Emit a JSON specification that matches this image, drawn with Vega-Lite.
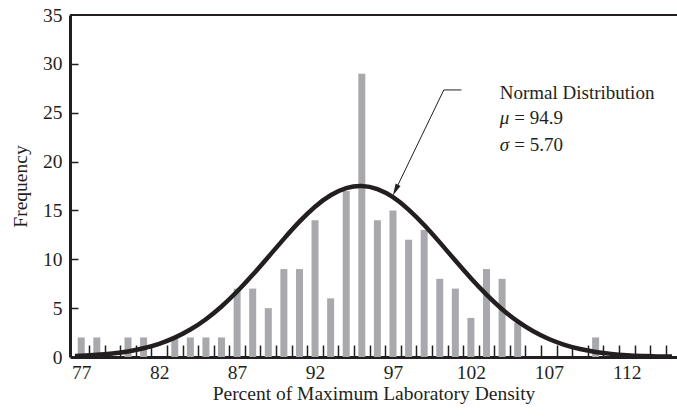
{
  "$schema": "https://vega.github.io/schema/vega-lite/v6.json",
  "width": 607,
  "height": 342,
  "autosize": {"type": "none"},
  "padding": {"left": 70, "top": 15, "right": 0, "bottom": 61},
  "background": "white",
  "config": {
    "view": {"stroke": null},
    "font": "Liberation Serif",
    "axis": {"grid": false, "domainColor": "#231f20", "tickColor": "#231f20", "labelColor": "#231f20", "titleColor": "#231f20", "labelFont": "Liberation Serif", "titleFont": "Liberation Serif", "titleFontWeight": "normal"}
  },
  "datasets": {
    "bars": [
      {"x": 77, "f": 2}, {"x": 78, "f": 2}, {"x": 80, "f": 2}, {"x": 81, "f": 2},
      {"x": 83, "f": 2}, {"x": 84, "f": 2}, {"x": 85, "f": 2}, {"x": 86, "f": 2},
      {"x": 87, "f": 7}, {"x": 88, "f": 7}, {"x": 89, "f": 5}, {"x": 90, "f": 9},
      {"x": 91, "f": 9}, {"x": 92, "f": 14}, {"x": 93, "f": 6}, {"x": 94, "f": 17},
      {"x": 95, "f": 29}, {"x": 96, "f": 14}, {"x": 97, "f": 15}, {"x": 98, "f": 12},
      {"x": 99, "f": 13}, {"x": 100, "f": 8}, {"x": 101, "f": 7}, {"x": 102, "f": 4},
      {"x": 103, "f": 9}, {"x": 104, "f": 8}, {"x": 105, "f": 3.5}, {"x": 110, "f": 2}
    ],
    "curve": [
      {"x": 76.6, "y": 0.10}, {"x": 77, "y": 0.13}, {"x": 78, "y": 0.22}, {"x": 79, "y": 0.36},
      {"x": 80, "y": 0.57}, {"x": 81, "y": 0.90}, {"x": 82, "y": 1.35}, {"x": 83, "y": 1.98},
      {"x": 84, "y": 2.81}, {"x": 85, "y": 3.87}, {"x": 86, "y": 5.17}, {"x": 87, "y": 6.70},
      {"x": 88, "y": 8.41}, {"x": 89, "y": 10.24}, {"x": 90, "y": 12.09}, {"x": 91, "y": 13.85},
      {"x": 92, "y": 15.38}, {"x": 93, "y": 16.55}, {"x": 94, "y": 17.28}, {"x": 95, "y": 17.50},
      {"x": 96, "y": 17.18}, {"x": 97, "y": 16.35}, {"x": 98, "y": 15.09}, {"x": 99, "y": 13.51},
      {"x": 100, "y": 11.73}, {"x": 101, "y": 9.87}, {"x": 102, "y": 8.06}, {"x": 103, "y": 6.38},
      {"x": 104, "y": 4.89}, {"x": 105, "y": 3.64}, {"x": 106, "y": 2.63}, {"x": 107, "y": 1.84},
      {"x": 108, "y": 1.25}, {"x": 109, "y": 0.82}, {"x": 110, "y": 0.52}, {"x": 111, "y": 0.32},
      {"x": 112, "y": 0.19}, {"x": 113, "y": 0.11}, {"x": 114, "y": 0.06}, {"x": 114.9, "y": 0.04}
    ],
    "arrow": [
      {"seq": 1, "x": 101.39, "y": 27.33},
      {"seq": 2, "x": 100.26, "y": 27.33},
      {"seq": 3, "x": 97.16, "y": 17.08}
    ],
    "head": [{"x": 97.16, "y": 17.08}],
    "border": [{"y": 35}],
    "greek": [
      {"x": 103.85, "y": 23.85, "t": "μ"},
      {"x": 103.85, "y": 21.1, "t": "σ"}
    ],
    "plain": [
      {"x": 103.85, "y": 26.41, "t": "Normal Distribution"},
      {"x": 104.78, "y": 23.85, "t": "= 94.9"},
      {"x": 104.78, "y": 21.1, "t": "= 5.70"}
    ]
  },
  "layer": [
    {
      "data": {"name": "bars"},
      "mark": {"type": "bar", "color": "#a7a9ac", "size": 7},
      "encoding": {
        "x": {"field": "x", "type": "quantitative",
              "scale": {"domain": [76.6, 114.9], "nice": false, "zero": false},
              "axis": {"title": "Percent of Maximum Laboratory Density", "values": [77, 82, 87, 92, 97, 102, 107, 112],
                       "ticks": false, "labelPadding": 6, "labelFontSize": 19.5, "labelFlush": false,
                       "domainWidth": 3, "titleFontSize": 19.5, "titlePadding": 3}},
        "y": {"field": "f", "type": "quantitative",
              "scale": {"domain": [0, 35], "nice": false},
              "axis": {"orient": "left", "title": "Frequency", "values": [0, 5, 10, 15, 20, 25, 30, 35],
                       "ticks": false, "labelPadding": 8, "labelFontSize": 19.5, "labelFlush": false,
                       "domainWidth": 3, "titleFontSize": 19.5, "titlePadding": 12}}
      }
    },
    {
      "data": {"name": "curve"},
      "mark": {"type": "line", "color": "#231f20", "strokeWidth": 4.5, "interpolate": "natural", "clip": true},
      "encoding": {
        "x": {"field": "x", "type": "quantitative",
              "scale": {"domain": [76.6, 114.9], "nice": false, "zero": false},
              "axis": {"orient": "top", "offset": -342, "title": null, "labels": false, "domain": false,
                       "values": [77.5, 78.5, 79.5, 80.5, 81.5, 82.5, 83.5, 84.5, 85.5, 86.5, 87.5, 88.5, 89.5, 90.5, 91.5, 92.5, 93.5, 94.5, 95.5, 96.5, 97.5, 98.5, 99.5, 100.5, 101.5, 102.5, 103.5, 104.5, 105.5, 106.5, 107.5, 108.5, 109.5, 110.5, 111.5, 112.5, 113.5, 114.5],
                       "tickSize": 12, "tickWidth": 1.5}},
        "y": {"field": "y", "type": "quantitative", "scale": {"domain": [0, 35], "nice": false},
              "axis": {"orient": "right", "offset": -607, "title": null, "labels": false, "domain": false,
                       "values": [5, 10, 15, 20, 25, 30], "tickSize": 8, "tickWidth": 1.5}}
      }
    },
    {
      "data": {"name": "border"},
      "mark": {"type": "rule", "color": "#231f20", "strokeWidth": 2},
      "encoding": {"y": {"field": "y", "type": "quantitative", "scale": {"domain": [0, 35], "nice": false}, "axis": null}}
    },
    {
      "data": {"name": "arrow"},
      "mark": {"type": "line", "color": "#231f20", "strokeWidth": 1},
      "encoding": {
        "x": {"field": "x", "type": "quantitative", "scale": {"domain": [76.6, 114.9], "nice": false, "zero": false}, "axis": null},
        "y": {"field": "y", "type": "quantitative", "scale": {"domain": [0, 35], "nice": false}, "axis": null},
        "order": {"field": "seq"}
      }
    },
    {
      "data": {"name": "head"},
      "mark": {"type": "point", "shape": "M0,-1L0.45,1L-0.45,1Z", "size": 144, "angle": 206, "filled": true, "color": "#231f20", "opacity": 1, "strokeWidth": 0},
      "encoding": {
        "x": {"field": "x", "type": "quantitative", "scale": {"domain": [76.6, 114.9], "nice": false, "zero": false}, "axis": null},
        "y": {"field": "y", "type": "quantitative", "scale": {"domain": [0, 35], "nice": false}, "axis": null}
      }
    },
    {
      "data": {"name": "greek"},
      "mark": {"type": "text", "align": "left", "baseline": "alphabetic", "fontSize": 19, "fontStyle": "italic", "color": "#231f20", "font": "Liberation Serif"},
      "encoding": {
        "x": {"field": "x", "type": "quantitative", "scale": {"domain": [76.6, 114.9], "nice": false, "zero": false}, "axis": null},
        "y": {"field": "y", "type": "quantitative", "scale": {"domain": [0, 35], "nice": false}, "axis": null},
        "text": {"field": "t"}
      }
    },
    {
      "data": {"name": "plain"},
      "mark": {"type": "text", "align": "left", "baseline": "alphabetic", "fontSize": 19, "color": "#231f20", "font": "Liberation Serif"},
      "encoding": {
        "x": {"field": "x", "type": "quantitative", "scale": {"domain": [76.6, 114.9], "nice": false, "zero": false}, "axis": null},
        "y": {"field": "y", "type": "quantitative", "scale": {"domain": [0, 35], "nice": false}, "axis": null},
        "text": {"field": "t"}
      }
    }
  ],
  "resolve": {"axis": {"x": "independent", "y": "independent"}}
}
